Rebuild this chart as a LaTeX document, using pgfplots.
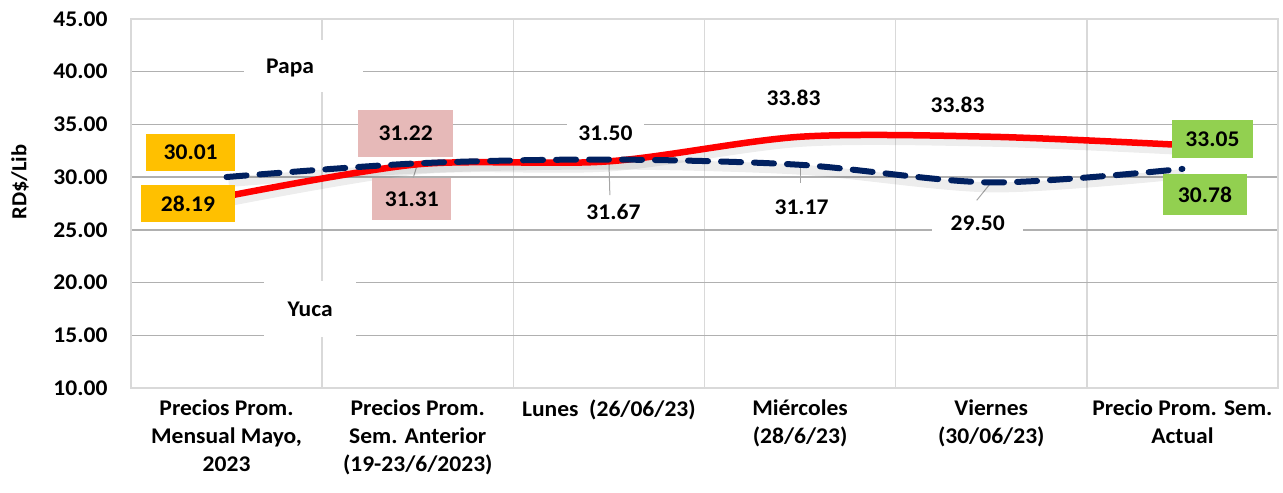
\documentclass[border=0pt]{standalone}
\usepackage{fontspec}
\setmainfont{Carlito}[FakeStretch=1.05]
\usepackage{pgfplots}
\pgfplotsset{compat=1.18}
\definecolor{papared}{HTML}{FF0000}
\definecolor{yucablue}{HTML}{002060}
\definecolor{orng}{HTML}{FFC000}
\definecolor{pnk}{HTML}{E6B9B8}
\definecolor{grn}{HTML}{92D050}
\definecolor{hgrid}{HTML}{B0B0B0}
\definecolor{vgrid}{HTML}{D9D9D9}
\definecolor{leader}{HTML}{A6A6A6}
\newcommand{\lbl}{\fontsize{22.5}{26}\selectfont\bfseries}
\begin{document}
\begin{tikzpicture}
\useasboundingbox (0,0) rectangle (1283bp,493bp);
\begin{axis}[
  at={(131bp,105bp)}, anchor=south west,
  scale only axis, width=1147bp, height=369bp,
  xmin=-0.5, xmax=5.5, ymin=10, ymax=45,
  xtick={0,...,5},
  xticklabels={{Precios Prom.\\Mensual Mayo,\\2023},{Precios Prom.\\Sem. Anterior\\(19-23/6/2023)},{Lunes~~(26/06/23)},{Miércoles\\(28/6/23)},{Viernes\\(30/06/23)},{Precio Prom. Sem.\\Actual}},
  xticklabel style={align=center, font=\fontsize{22.5}{28}\selectfont\bfseries, anchor=north, yshift=-8bp},
  ytick={10,15,...,45},
  yticklabel style={font=\fontsize{22.5}{26}\selectfont\bfseries, anchor=east, xshift=-20bp},
  /pgf/number format/assume math mode=true,
  /pgf/number format/.cd, fixed, fixed zerofill, precision=2, /pgfplots/.cd,
  major tick length=0pt, minor tick length=0pt,
  ymajorgrids, major grid style={hgrid, line width=1.3bp},
  minor xtick={0.5,1.5,...,4.5}, xminorgrids, minor grid style={vgrid, line width=1.6bp},
  axis line style={vgrid, line width=1.6bp},
  ylabel={RD\$/Lib},
  ylabel style={at={(axis description cs:-0.0968,0.558)}, anchor=center, font=\fontsize{21.5}{25}\selectfont\bfseries},
  clip=false,
]
% legend-like labels with white background
\node[fill=white, minimum width=119bp, minimum height=52bp, inner sep=0pt] at (axis cs:0.4,40.54) {};
\node[font=\lbl] at (axis cs:0.332,40.35) {Papa};
\node[fill=white, minimum width=92bp, minimum height=56bp, inner sep=0pt, font=\lbl] at (axis cs:0.437,17.49) {Yuca};
\node[fill=white, minimum width=77bp, minimum height=30bp, inner sep=0pt, font=\lbl] at (axis cs:1.982,34.19) {31.50};
\node[fill=white, minimum width=91bp, minimum height=30bp, inner sep=0pt, font=\lbl] at (axis cs:3.929,25.65) {29.50};
% leader lines
\draw[leader, line width=1bp] (axis cs:2,31.67) -- (axis cs:2.005,28.3);
\draw[leader, line width=1bp] (axis cs:3,31.17) -- (axis cs:3,29.44);
\draw[leader, line width=1bp] (axis cs:4,29.5) -- (axis cs:3.924,27.8);
\draw[leader, line width=1bp] (axis cs:1,31.31) -- (axis cs:0.976,29.92);
% shadows
\addplot[smooth, tension=0.5, black, opacity=0.07, line width=10bp, xshift=2bp, yshift=-5bp, forget plot] coordinates {(0,28.19)(1,31.22)(2,31.50)(3,33.83)(4,33.83)(5,33.05)};
\addplot[smooth, tension=0.5, black, opacity=0.07, line width=10bp, xshift=2bp, yshift=-5bp, forget plot] coordinates {(0,30.01)(1,31.31)(2,31.67)(3,31.17)(4,29.50)(5,30.78)};
% Papa
\addplot[smooth, tension=0.5, papared, line width=6.5bp] coordinates {(0,28.19)(1,31.22)(2,31.50)(3,33.83)(4,33.83)(5,33.05)};
% Yuca
\addplot[smooth, tension=0.5, yucablue, line width=6bp, line cap=round, dash pattern=on 20bp off 13bp] coordinates {(0,30.01)(1,31.31)(2,31.67)(3,31.17)(4,29.50)(5,30.78)};
% data labels
\node[fill=orng, minimum width=89bp, minimum height=37bp, inner sep=0pt, font=\lbl] at (axis cs:-0.188,32.34) {30.01};
\node[fill=orng, minimum width=94bp, minimum height=37bp, inner sep=0pt, font=\lbl] at (axis cs:-0.202,27.5) {28.19};
\node[fill=pnk, minimum width=95bp, minimum height=47bp, inner sep=0pt, font=\lbl] at (axis cs:0.937,34.14) {31.22};
\node[fill=pnk, minimum width=79bp, minimum height=42bp, inner sep=0pt, font=\lbl] at (axis cs:0.969,27.88) {31.31};
\node[fill=grn, minimum width=81bp, minimum height=38bp, inner sep=0pt, font=\lbl] at (axis cs:5.157,33.62) {33.05};
\node[fill=grn, minimum width=84bp, minimum height=41bp, inner sep=0pt, font=\lbl] at (axis cs:5.118,28.35) {30.78};
\node[font=\lbl] at (axis cs:2.024,26.69) {31.67};
\node[font=\lbl] at (axis cs:2.966,37.51) {33.83};
\node[font=\lbl] at (axis cs:3.008,27.17) {31.17};
\node[font=\lbl] at (axis cs:3.824,36.84) {33.83};
\end{axis}
\end{tikzpicture}
\end{document}
